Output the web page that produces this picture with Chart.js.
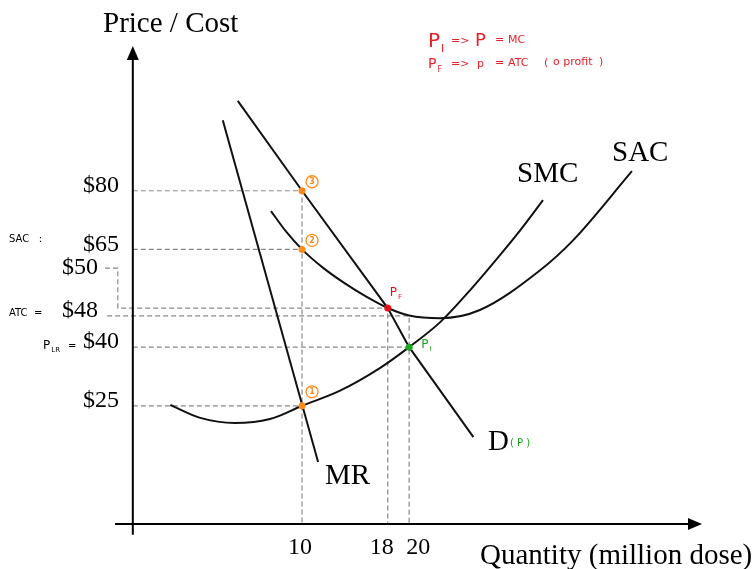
<!DOCTYPE html>
<html>
<head>
<meta charset="utf-8">
<script src="https://cdn.jsdelivr.net/npm/chart.js@4.4.1/dist/chart.umd.min.js"></script>
<style>
html, body { margin: 0; padding: 0; background: #fff; }
canvas { display: block; }
</style>
</head>
<body>
<canvas id="chart" width="755" height="569"></canvas>
<script>
// price levels marked on the vertical axis
const priceLevels = [80, 65, 50, 48, 40, 25];
const priceLabels = ['$80', '$65', '$50', '$48', '$40', '$25'];
// quantity levels marked on the horizontal axis
const qtyLevels = [10, 18, 20];
const qtyLabels = ['10', '18', '20'];

// curves (quantity, price)
const smcQ = [-2.3, 0.5, 3.7, 7, 10, 13.5, 17.3, 20, 22.9, 25.7, 28.5, 30.4, 32.5];
const smcP = [25.2, 21.9, 20.6, 21.6, 25, 28.8, 34.7, 40, 46.4, 54.6, 63.6, 70, 77.6];
const sacQ = [7.1, 8.5, 10, 12, 14, 16, 18, 20, 22.9, 26.6, 32.2, 35.3, 40.8];
const sacP = [74.8, 69.6, 65, 60.2, 56.3, 52.9, 50, 48.1, 47.4, 49.5, 59.6, 67.3, 85];
const demandQ = [4, 10, 18, 20, 26];
const demandP = [103, 80, 50, 40, 17];
const mrQ = [2.6, 11.5];
const mrP = [98, 10.6];

// numbered points (orange) and the two equilibria
const numQ = [10, 10, 10];
const numP = [25, 65, 80];
const numLabels = ['1', '2', '3'];
const pfQ = 18, pfP = 50;
const piQ = 20, piP = 40;

// where the drawn axes sit, in data units
const axisQ = -5.8;
const axisP = -5.2;

const pts = (qs, ps) => qs.map((q, i) => ({ x: q, y: ps[i] }));

const guides = [
    [[axisQ, 80], [10, 80], [10, axisP]],
    [[axisQ, 65], [10, 65]],
    [[-8.4, 60.2], [-7.2, 60.2], [-7.2, 50], [18, 50], [18, axisP]],
    [[-8.2, 48], [20, 48], [20, axisP]],
    [[axisQ, 40], [20, 40]],
    [[axisQ, 25], [10, 25]]
];

const datasets = [];
datasets.push({
    data: pts(numQ, numP), showLine: false, pointRadius: 3.5,
    pointBackgroundColor: '#ff8a1c', pointBorderWidth: 0, order: 0
});
datasets.push({
    data: [{ x: pfQ, y: pfP }], showLine: false, pointRadius: 3.5,
    pointBackgroundColor: '#e0101a', pointBorderWidth: 0, order: 0
});
datasets.push({
    data: [{ x: piQ, y: piP }], showLine: false, pointRadius: 3.5,
    pointBackgroundColor: '#1aa51a', pointBorderWidth: 0, order: 0
});
[[smcQ, smcP, 'monotone'], [sacQ, sacP, 'monotone'], [demandQ, demandP, 'default'], [mrQ, mrP, 'default']].forEach(c => {
    datasets.push({
        data: pts(c[0], c[1]), showLine: true, pointRadius: 0,
        borderColor: '#111', borderWidth: 2,
        cubicInterpolationMode: c[2], tension: c[2] === 'monotone' ? 0.4 : 0,
        fill: false, order: 1
    });
});
guides.forEach(g => {
    datasets.push({
        data: g.map(p => ({ x: p[0], y: p[1] })), showLine: true, pointRadius: 0,
        borderColor: '#888', borderWidth: 1.2, borderDash: [5, 3], tension: 0, fill: false, order: 2
    });
});

function subText(ctx, x, y, main, sub, size, color, font) {
    ctx.fillStyle = color;
    ctx.textAlign = 'left';
    ctx.textBaseline = 'alphabetic';
    ctx.font = size + 'px ' + font;
    ctx.fillText(main, x, y);
    const w = ctx.measureText(main).width;
    ctx.font = Math.round(size * 0.55) + 'px ' + font;
    ctx.fillText(sub, x + w + 1, y + size * 0.25);
}

const diagram = {
    id: 'diagram',
    afterDatasetsDraw(chart) {
        const ctx = chart.ctx;
        const px = q => chart.scales.x.getPixelForValue(q);
        const py = p => chart.scales.y.getPixelForValue(p);
        const serif = '"Liberation Serif", "Times New Roman", serif';
        const hand = '"DejaVu Sans", sans-serif';
        ctx.save();

        // axes with arrow heads
        const ax = px(axisQ), ay = py(axisP);
        ctx.strokeStyle = '#000';
        ctx.fillStyle = '#000';
        ctx.lineWidth = 2;
        ctx.beginPath();
        ctx.moveTo(ax, py(-8)); ctx.lineTo(ax, 56);
        ctx.moveTo(115, ay); ctx.lineTo(692, ay);
        ctx.stroke();
        ctx.beginPath();
        ctx.moveTo(ax, 46); ctx.lineTo(ax - 6, 60); ctx.lineTo(ax + 6, 60); ctx.closePath();
        ctx.fill();
        ctx.beginPath();
        ctx.moveTo(702, ay); ctx.lineTo(688, ay - 6); ctx.lineTo(688, ay + 6); ctx.closePath();
        ctx.fill();

        // axis titles
        ctx.font = '29px ' + serif;
        ctx.textAlign = 'left';
        ctx.textBaseline = 'alphabetic';
        ctx.fillText('Price / Cost', 103, 32);
        ctx.fillText('Quantity (million dose)', 480, 564);

        // price labels
        ctx.font = '24px ' + serif;
        ctx.textAlign = 'right';
        ctx.textBaseline = 'middle';
        priceLevels.forEach((p, i) => {
            let x = 119, y = py(p) - 5;
            if (p === 50) { x = 98; y = py(60.2); }
            if (p === 48) { x = 98; }
            ctx.fillText(priceLabels[i], x, y);
        });

        // quantity labels
        ctx.textAlign = 'center';
        ctx.textBaseline = 'alphabetic';
        const qShift = [-2, -6, 9];
        qtyLevels.forEach((q, i) => {
            ctx.fillText(qtyLabels[i], px(q) + qShift[i], 554);
        });

        // curve names
        ctx.font = '29px ' + serif;
        ctx.textAlign = 'left';
        ctx.fillText('SMC', 517, 182);
        ctx.fillText('SAC', 612, 161);
        ctx.fillText('MR', 325, 484);
        ctx.fillText('D', 488, 450);
        ctx.fillStyle = '#1aa51a';
        ctx.font = '10px ' + hand;
        ctx.fillText('( P )', 510, 446);

        // small notes at the left
        ctx.fillStyle = '#000';
        ctx.font = '10px ' + hand;
        ctx.fillText('SAC   :', 9, 242);
        ctx.fillText('ATC  =', 9, 316);
        subText(ctx, 43, 349, 'P', 'LR', 12, '#000', hand);
        ctx.fillStyle = '#000';
        ctx.font = '10px ' + hand;
        ctx.fillText('=', 68, 349);

        // circled numbers
        ctx.strokeStyle = '#ff8a1c';
        ctx.lineWidth = 1.3;
        numQ.forEach((q, i) => {
            const cx = px(q) + 10, cy = py(numP[i]) - (i === 0 ? 14 : 9);
            ctx.beginPath();
            ctx.arc(cx, cy, 6, 0, Math.PI * 2);
            ctx.stroke();
            ctx.fillStyle = '#ff8a1c';
            ctx.font = 'bold 8px ' + hand;
            ctx.textAlign = 'center';
            ctx.textBaseline = 'middle';
            ctx.fillText(numLabels[i], cx, cy + 0.5);
        });

        // equilibrium labels
        subText(ctx, px(pfQ) + 2, py(pfP) - 12, 'P', 'F', 12, '#e0101a', hand);
        subText(ctx, px(piQ) + 12, py(piP) + 1, 'P', 'I', 12, '#1aa51a', hand);

        // red note, top right
        const red = '#e8202a';
        subText(ctx, 428, 47, 'P', 'I', 20, red, hand);
        ctx.font = '11px ' + hand;
        ctx.fillText('=>', 451, 44);
        ctx.font = '18px ' + hand;
        ctx.fillText('P', 475, 46);
        ctx.font = '11px ' + hand;
        ctx.fillText('=', 495, 43);
        ctx.fillText('MC', 508, 43);
        subText(ctx, 428, 68, 'P', 'F', 14, red, hand);
        ctx.font = '11px ' + hand;
        ctx.fillText('=>', 451, 67);
        ctx.fillText('p', 477, 67);
        ctx.fillText('=', 495, 66);
        ctx.fillText('ATC', 508, 66);
        ctx.fillText('(', 544, 66);
        ctx.fillText('o profit', 553, 65);
        ctx.fillText(')', 599, 65);

        ctx.restore();
    }
};

new Chart(document.getElementById('chart').getContext('2d'), {
    type: 'scatter',
    data: { datasets: datasets },
    options: {
        responsive: false,
        animation: false,
        layout: { padding: 0, autoPadding: false },
        plugins: { legend: { display: false }, tooltip: { enabled: false } },
        scales: {
            x: { type: 'linear', min: -18.2, max: 52.29, display: false },
            y: { type: 'linear', min: -16.74, max: 128.78, display: false }
        }
    },
    plugins: [diagram]
});
</script>
</body>
</html>
